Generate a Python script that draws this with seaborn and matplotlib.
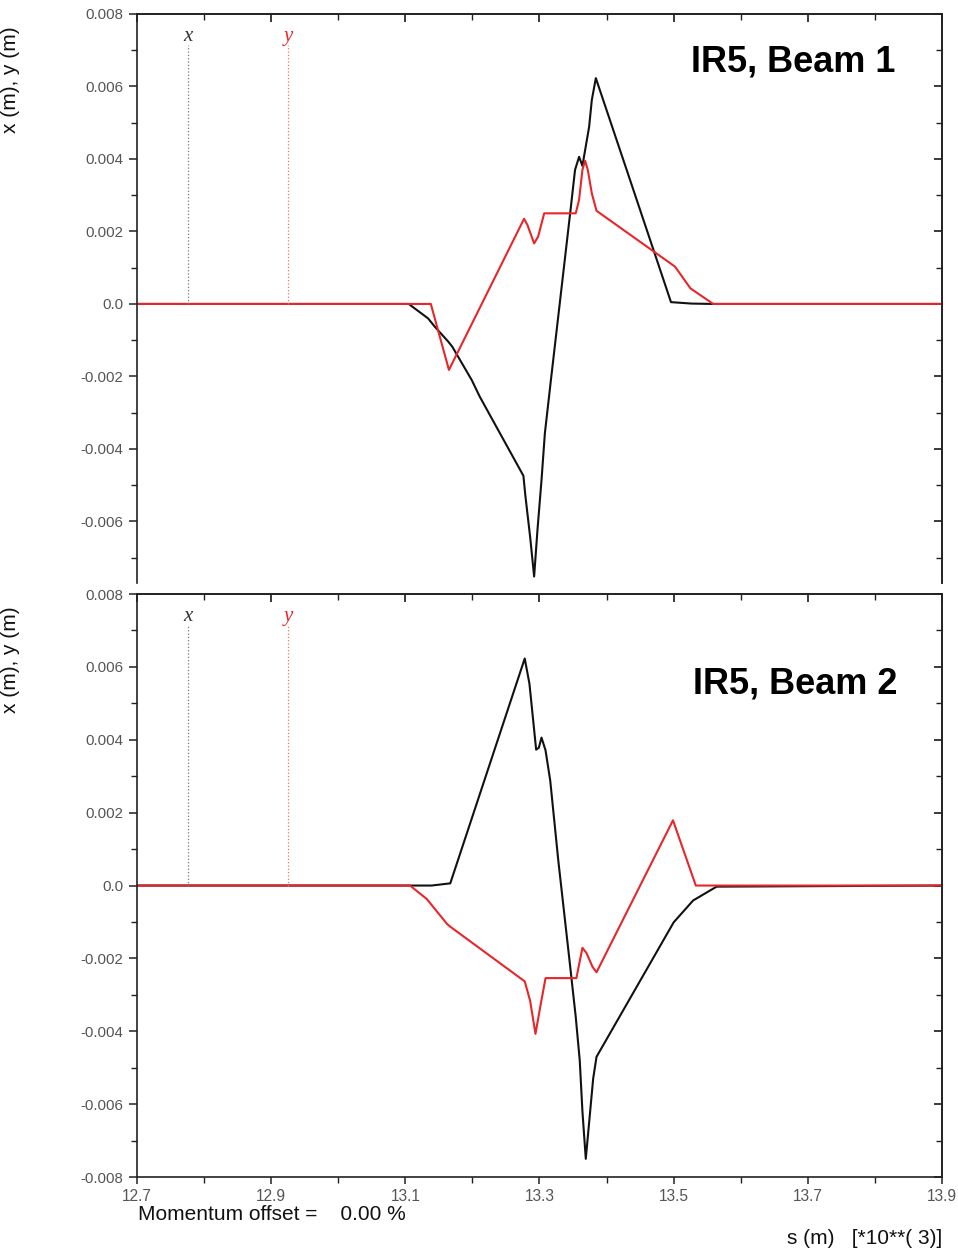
import numpy as np
import pandas as pd
import matplotlib
matplotlib.use('Agg')
import matplotlib.pyplot as plt
from matplotlib.ticker import MultipleLocator, FuncFormatter
import seaborn as sns

# --- datos (s en km, x/y en m) ---
beam1_x_s = [12.7, 13.105, 13.134, 13.144, 13.164, 13.17, 13.199, 13.211, 13.276, 13.279,
             13.286, 13.292, 13.297, 13.303, 13.308, 13.317, 13.346, 13.353, 13.359, 13.364,
             13.374, 13.378, 13.384, 13.435, 13.496, 13.527, 13.559, 13.9]
beam1_x = [0, 0, -0.0004, -0.00063, -0.00104, -0.00118, -0.0021, -0.00256, -0.00474, -0.0053,
           -0.00642, -0.00752, -0.00623, -0.00486, -0.00357, -0.0021, 0.00255, 0.0037, 0.00406, 0.00381,
           0.00489, 0.00563, 0.00623, 0.00342, 0.00005, 0.00001, 0, 0]

beam1_y_s = [12.7, 13.138, 13.165, 13.277, 13.282, 13.292, 13.298, 13.307, 13.354, 13.359,
             13.364, 13.368, 13.372, 13.378, 13.385, 13.502, 13.525, 13.559, 13.9]
beam1_y = [0, 0, -0.00182, 0.00235, 0.00218, 0.00167, 0.00186, 0.0025, 0.0025, 0.00287,
           0.0037, 0.00395, 0.0037, 0.00305, 0.00257, 0.00103, 0.00043, 0, 0]

beam2_x_s = [12.7, 13.105, 13.139, 13.167, 13.278, 13.285, 13.295, 13.299, 13.303, 13.309,
             13.316, 13.328, 13.345, 13.354, 13.36, 13.364, 13.369, 13.375, 13.38, 13.385,
             13.5, 13.529, 13.564, 13.9]
beam2_x = [0, 0, 0, 0.00006, 0.00623, 0.00554, 0.00373, 0.00378, 0.00406, 0.00371,
           0.00288, 0.00069, -0.0021, -0.0036, -0.0048, -0.0062, -0.0075, -0.0063, -0.0053, -0.0047,
           -0.00101, -0.00041, -0.00003, 0]

beam2_y_s = [12.7, 13.107, 13.132, 13.162, 13.167, 13.278, 13.286, 13.294, 13.301, 13.309,
             13.355, 13.364, 13.37, 13.379, 13.385, 13.499, 13.533, 13.9]
beam2_y = [0, 0, -0.00037, -0.00105, -0.00113, -0.00263, -0.00316, -0.00407, -0.00334, -0.00254,
           -0.00254, -0.00171, -0.00185, -0.00223, -0.00238, 0.00179, 0, 0]

marker_s = [12.776, 12.925]   # posiciones de las etiquetas x / y
marker_txt = ['x', 'y']
titles = ['IR5, Beam 1', 'IR5, Beam 2']

NEGRO = '#111111'
ROJO = '#e8262a'

sns.set_theme(style='ticks')
plt.rcParams['font.family'] = ['Liberation Sans', 'DejaVu Sans']


def fmt_y(v, pos):
    if abs(v) < 1e-12:
        return '0.0'
    return f'{v:.3f}'


def panel(fig, rect, xs, xv, ys, yv, ylow, show_xlabels):
    ax = fig.add_axes(rect)
    dfx = pd.DataFrame({'s': xs, 'v': xv})
    dfy = pd.DataFrame({'s': ys, 'v': yv})
    sns.lineplot(data=dfx, x='s', y='v', ax=ax, color=NEGRO, lw=1.5, estimator=None, sort=False)
    sns.lineplot(data=dfy, x='s', y='v', ax=ax, color=ROJO, lw=1.5, estimator=None, sort=False)

    # marcas x / y punteadas
    for s, t, c, lc in zip(marker_s, marker_txt, ['#333333', ROJO], ['#777777', '#f07070']):
        ax.plot([s, s], [0, 0.00714], ls=':', lw=0.9, color=lc)
        ax.text(s, 0.00737, t, color=c, fontsize=15, style='italic',
                family=['Liberation Serif', 'DejaVu Serif'], ha='center', va='center')

    ax.set_xlim(12.7, 13.9)
    ax.set_ylim(ylow, 0.008)
    ax.set_xlabel('')
    ax.set_ylabel('')
    ax.yaxis.set_major_locator(MultipleLocator(0.002))
    ax.yaxis.set_minor_locator(MultipleLocator(0.001))
    ax.yaxis.set_major_formatter(FuncFormatter(fmt_y))
    ax.set_xticks(np.round(np.arange(12.7, 13.95, 0.2), 1))
    ax.set_xticks(np.round(np.arange(12.8, 13.9, 0.2), 1), minor=True)
    ax.tick_params(axis='y', which='major', direction='out', length=6, width=1.1, pad=4,
                   colors='#222222', labelcolor='#555555', labelsize=10.8)
    ax.tick_params(axis='y', which='minor', direction='out', length=4, width=1.0, colors='#222222')
    ax.tick_params(axis='x', which='major', direction='out', length=5, width=1.1,
                   colors='#222222', labelcolor='#555555', labelsize=11.2)
    ax.tick_params(axis='x', which='minor', direction='out', length=4, width=1.0, colors='#222222')
    for sp in ax.spines.values():
        sp.set_visible(True)
        sp.set_linewidth(1.2)
        sp.set_color('#222222')

    sec_y = ax.secondary_yaxis('right')
    sec_y.yaxis.set_major_locator(MultipleLocator(0.002))
    sec_y.yaxis.set_minor_locator(MultipleLocator(0.001))
    sec_y.tick_params(which='both', direction='in', labelright=False, colors='#222222')
    sec_y.tick_params(which='major', length=6)
    sec_y.tick_params(which='minor', length=4)
    sec_x = ax.secondary_xaxis('top')
    sec_x.set_xticks(np.round(np.arange(12.7, 13.95, 0.2), 1))
    sec_x.set_xticks(np.round(np.arange(12.8, 13.9, 0.2), 1), minor=True)
    sec_x.tick_params(which='both', direction='in', labeltop=False, colors='#222222')
    sec_x.tick_params(which='major', length=6)
    sec_x.tick_params(which='minor', length=4)

    if not show_xlabels:
        ax.spines['bottom'].set_visible(False)
        ax.tick_params(axis='x', which='both', bottom=False, labelbottom=False)
    return ax


fig = plt.figure(figsize=(9.58, 12.49), dpi=100)
fig.patch.set_facecolor('white')

ax1 = panel(fig, [0.143, 0.5332, 0.8403, 0.4556], beam1_x_s, beam1_x, beam1_y_s, beam1_y, -0.0077, False)
ax2 = panel(fig, [0.143, 0.0576, 0.8403, 0.4668], beam2_x_s, beam2_x, beam2_y_s, beam2_y, -0.008, True)

fig.text(0.011, 1 - 80 / 1249, 'x (m), y (m)', rotation=90, ha='center', va='center', fontsize=15, color='#111111')
fig.text(0.011, 1 - 660 / 1249, 'x (m), y (m)', rotation=90, ha='center', va='center', fontsize=15, color='#111111')

fig.text(0.828, 1 - 62 / 1249, titles[0], ha='center', va='center', fontsize=26, fontweight='bold', color='black')
fig.text(0.830, 1 - 684 / 1249, titles[1], ha='center', va='center', fontsize=26, fontweight='bold', color='black')

fig.text(138 / 958, 1 - 1215 / 1249, 'Momentum offset =    0.00 %', ha='left', va='center', fontsize=15, color='#111111')
fig.text(942 / 958, 1 - 1238 / 1249, 's (m)   [*10**( 3)]', ha='right', va='center', fontsize=15, color='#111111')

fig.savefig('out.png', dpi=100, facecolor='white')
plt.close(fig)
